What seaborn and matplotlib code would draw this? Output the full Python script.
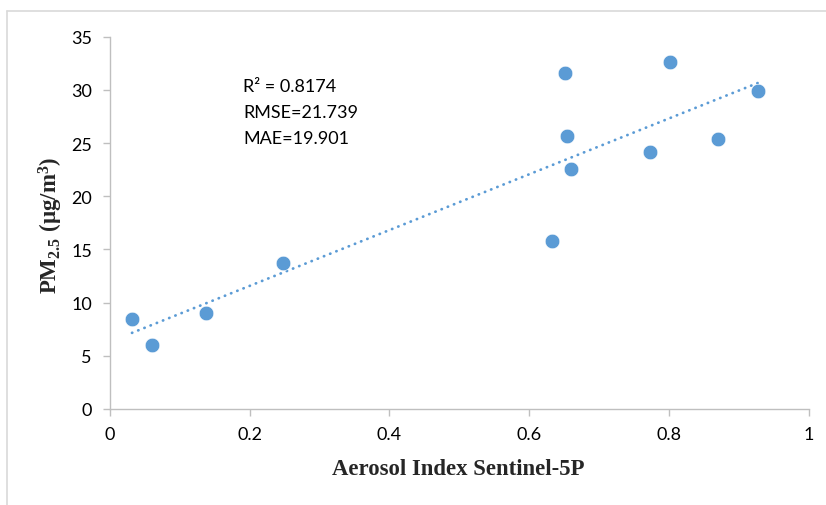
import numpy as np
import pandas as pd
import matplotlib
matplotlib.use("Agg")
import matplotlib.pyplot as plt
from matplotlib.lines import Line2D
import seaborn as sns

# Aerosol index (Sentinel-5P) vs. ground PM2.5
aerosol_index = [0.0315, 0.0597, 0.138, 0.248, 0.632, 0.651, 0.654, 0.660,
                 0.773, 0.802, 0.871, 0.927]
pm25 = [8.5, 6.0, 9.05, 13.7, 15.8, 31.6, 25.7, 22.6,
        24.2, 32.6, 25.4, 29.9]
stats_lines = ["R\u00b2 = 0.8174", "RMSE=21.739", "MAE=19.901"]
x_ticks = [0, 0.2, 0.4, 0.6, 0.8, 1]
x_tick_labels = ["0", "0.2", "0.4", "0.6", "0.8", "1"]
y_ticks = [0, 5, 10, 15, 20, 25, 30, 35]

df = pd.DataFrame({"ai": aerosol_index, "pm": pm25})

sns.set_theme(style="white")
plt.rcParams["font.family"] = ["Lato", "DejaVu Sans"]
plt.rcParams["mathtext.fontset"] = "custom"
plt.rcParams["mathtext.rm"] = "Liberation Serif:bold"
plt.rcParams["mathtext.it"] = "Liberation Serif:bold"
plt.rcParams["mathtext.bf"] = "Liberation Serif:bold"

W, H, DPI = 826, 506, 100
fig = plt.figure(figsize=(W / DPI, H / DPI), dpi=DPI)
ax = fig.add_axes([110 / W, 1 - 410 / H, (808.6 - 110) / W, (410 - 37.7) / H])

blue = "#5B9BD5"
sns.regplot(data=df, x="ai", y="pm", ax=ax, ci=None,
            scatter_kws=dict(s=110, color=blue, edgecolor="white",
                             linewidths=0.4, alpha=1, zorder=3),
            line_kws=dict(color=blue, lw=2.0, linestyle=(0, (0.1, 2.3)),
                          dash_capstyle="round", zorder=2))

ax.set_xlim(0, 1)
ax.set_ylim(0, 35)
ax.set_xticks(x_ticks)
ax.set_xticklabels(x_tick_labels)
ax.set_yticks(y_ticks)

gray = "#BFBFBF"
for side in ("top", "right"):
    ax.spines[side].set_visible(False)
for side in ("left", "bottom"):
    ax.spines[side].set_color(gray)
    ax.spines[side].set_linewidth(1.0)
ax.tick_params(axis="both", which="major", direction="out", length=5,
               width=1.0, color=gray, labelsize=13, labelcolor="black",
               left=True, bottom=True)
ax.tick_params(axis="y", pad=8)
ax.tick_params(axis="x", pad=7)

ax.set_xlabel("")
ax.set_ylabel("")
fig.text(458 / W, 1 - 470 / H, "Aerosol Index Sentinel-5P",
         family="Liberation Serif", weight="bold", fontsize=16.4,
         ha="center", va="center")
fig.text(51 / W, 1 - 225 / H, r"$\mathrm{PM_{2.5}\ (\mu g/m^{3})}$",
         fontsize=16.5, rotation=90, ha="center", va="center")

for i, line in enumerate(stats_lines):
    fig.text(243 / W, 1 - (87 + 26 * i) / H, line, fontsize=13,
             ha="left", va="center", color="black")

# light frame around the chart area
frame = "#D9D9D9"
fig.add_artist(Line2D([7 / W, 1], [1 - 12 / H, 1 - 12 / H],
                      transform=fig.transFigure, color=frame, lw=1.2))
fig.add_artist(Line2D([7 / W, 7 / W], [1 - 12 / H, 0],
                      transform=fig.transFigure, color=frame, lw=1.2))

fig.savefig("out.png", dpi=DPI)
